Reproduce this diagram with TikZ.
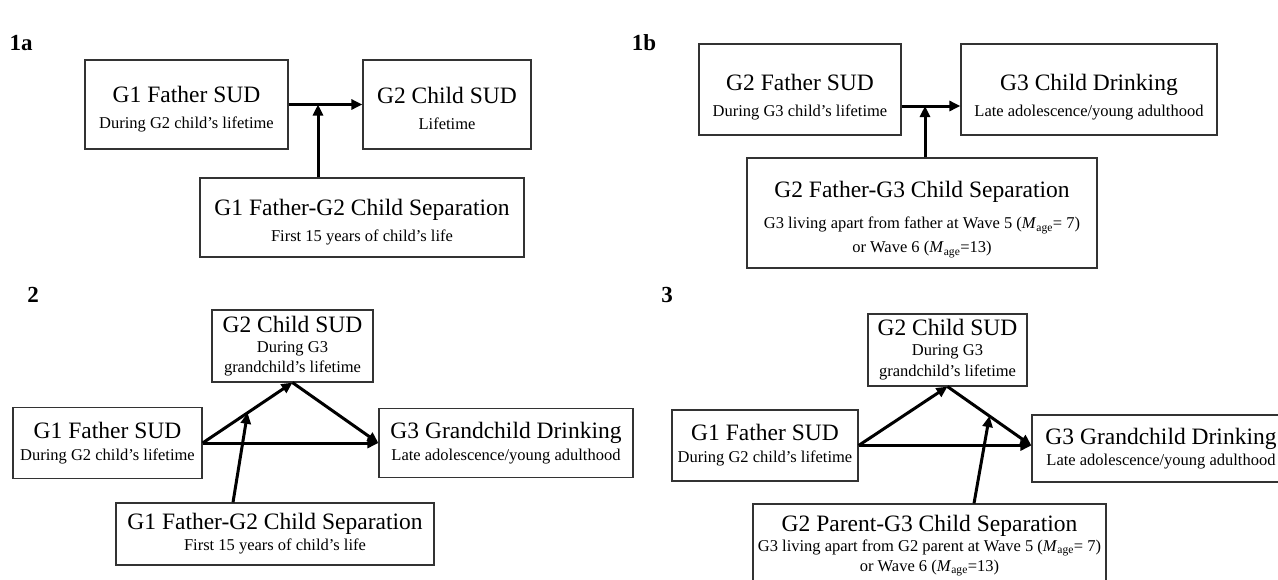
\documentclass[tikz,border=0pt]{standalone}
\usepackage{fontspec}
\setmainfont{Liberation Serif}
\usetikzlibrary{arrows.meta,calc}
\newcommand\BgLine{\fontsize{23.5}{27}\selectfont}
\newcommand\Mage{\textit{M}\textsubscript{age}}
\newcommand\TopStrut[1]{\rule{0pt}{#1}}
\tikzset{
  box/.style={draw=black!80, line width=1.2pt, inner sep=0pt, align=center,
    font=\fontsize{16.5}{19}\selectfont},
  conn/.style={line width=3pt, -{Triangle[length=11pt,width=10pt]}},
  panel/.style={font=\fontsize{23}{26}\selectfont\bfseries, inner sep=0pt},
}
\begin{document}
\begin{tikzpicture}[x=1pt,y=-1pt]
\useasboundingbox (0,0) rectangle (1278,579);
\clip (0,0) rectangle (1278,579);
\fill[white] (0,0) rectangle (1278,579);

% ---------- Panel 1a ----------
\node[panel] (L1a) at (21,43) {1a};
\node[box, minimum width=203pt, minimum height=89pt] (A1) at (186.5,104.5)
  {\TopStrut{25pt}{\BgLine G1 Father SUD}\\[7pt]During G2 child’s lifetime};
\node[box, minimum width=168pt, minimum height=89pt] (B1) at (447,104.5)
  {\TopStrut{25pt}{\BgLine G2 Child SUD}\\[7pt]Lifetime};
\node[box, minimum width=324pt, minimum height=79pt] (C1) at (362,217.5)
  {\TopStrut{25pt}{\BgLine G1 Father-G2 Child Separation}\\[7pt]First 15 years of child’s life};
\coordinate (m1a) at (318,104.5);
\draw[conn] (A1.east) -- (B1.west);
\draw[conn] (C1.north -| m1a) -- (m1a);

% ---------- Panel 1b ----------
\node[panel] (L1b) at (644,43) {1b};
\node[box, minimum width=202pt, minimum height=91pt] (A2) at (800,89.5)
  {\TopStrut{32pt}{\BgLine G2 Father SUD}\\[7pt]During G3 child’s lifetime};
\node[box, minimum width=256pt, minimum height=91pt] (B2) at (1089,89.5)
  {\TopStrut{32pt}{\BgLine G3 Child Drinking}\\[7pt]Late adolescence/young adulthood};
\node[box, minimum width=350pt, minimum height=110pt] (C2) at (922,213)
  {\TopStrut{30pt}{\BgLine G2 Father-G3 Child Separation}\\[12pt]G3 living apart from father at Wave 5 (\Mage= 7)\\[5pt]or Wave 6 (\Mage=13)};
\coordinate (m1b) at (925,106);
\draw[conn] (A2.east |- m1b) -- (B2.west |- m1b);
\draw[conn] (C2.north -| m1b) -- (m1b);

% ---------- Panel 2 ----------
\node[panel] (L2) at (33,295) {2};
\node[box, minimum width=161pt, minimum height=72pt] (P2M) at (292.5,346)
  {{\BgLine G2 Child SUD}\\[1pt]During G3\\[1pt]grandchild’s lifetime};
\node[box, minimum width=189pt, minimum height=71pt] (P2X) at (107.5,443)
  {{\BgLine G1 Father SUD}\\[3pt]During G2 child’s lifetime};
\node[box, minimum width=254pt, minimum height=69pt] (P2Y) at (506,443)
  {{\BgLine G3 Grandchild Drinking}\\[3pt]Late adolescence/young adulthood};
\node[box, minimum width=318pt, minimum height=62pt] (P2W) at (275,534)
  {{\BgLine G1 Father-G2 Child Separation}\\[2pt]First 15 years of child’s life};
\coordinate (t2) at (P2Y.west |- P2X.east);
\coordinate (m2) at ($(P2X.east)!0.5!(P2M.south)$);
\draw[conn] (P2X.east) -- (P2M.south);
\draw[conn] (P2X.east) -- (t2);
\draw[conn] (P2M.south) -- (t2);
\draw[conn] ([xshift=-42pt]P2W.north) -- (m2);

% ---------- Panel 3 ----------
\node[panel] (L3) at (667,295) {3};
\node[box, minimum width=159pt, minimum height=72pt] (P3M) at (947.5,350)
  {{\BgLine G2 Child SUD}\\[1pt]During G3\\[2pt]grandchild’s lifetime};
\node[box, minimum width=186pt, minimum height=71pt] (P3X) at (765,445.5)
  {{\BgLine G1 Father SUD}\\[3pt]During G2 child’s lifetime};
\node[box, minimum width=258pt, minimum height=67pt] (P3Y) at (1161,448.5)
  {{\BgLine G3 Grandchild Drinking}\\[2pt]Late adolescence/young adulthood};
\node[box, minimum width=353pt, minimum height=83pt] (P3W) at (929.5,545.5)
  {{\BgLine G2 Parent-G3 Child Separation}\\[1pt]G3 living apart from G2 parent at Wave 5 (\Mage= 7)\\[1pt]or Wave 6 (\Mage=13)};
\coordinate (t3) at (P3Y.west |- P3X.east);
\coordinate (m3) at ($(P3M.south)!0.5!(t3)$);
\draw[conn] (P3X.east) -- (P3M.south);
\draw[conn] (P3X.east) -- (t3);
\draw[conn] (P3M.south) -- (t3);
\draw[conn] ([xshift=44.5pt]P3W.north) -- (m3);
\end{tikzpicture}
\end{document}
